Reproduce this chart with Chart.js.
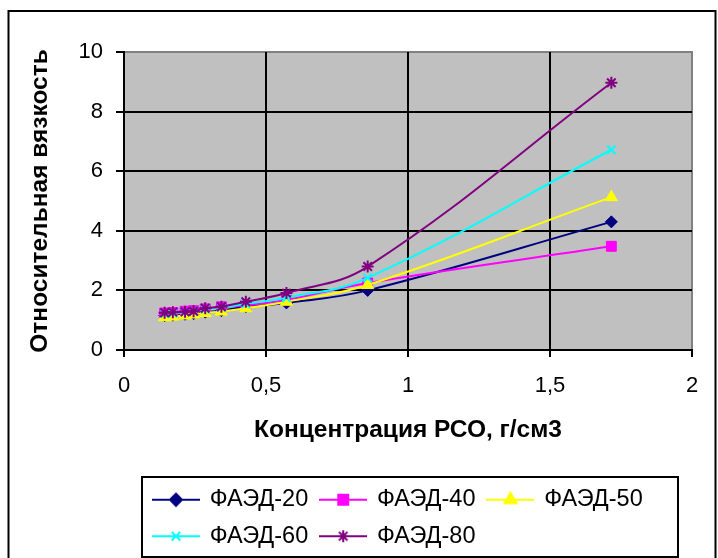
<!DOCTYPE html>
<html lang="ru">

<head>
  <meta charset="UTF-8">
  <title>Относительная вязкость</title>
  <style>
    body {
      margin: 0;
      background-color: #ffffff;
    }

    #chart-container {
      width: 718px;
      height: 558px;
    }
  </style>
</head>

<body>
  <div id="chart-container">
    <canvas id="viscosityChart" width="718" height="558"></canvas>
  </div>

  <script src="https://cdn.jsdelivr.net/npm/chart.js"></script>
  <script>
    // concentration, g/cm3
    const concentration = [0.143, 0.172, 0.215, 0.245, 0.286, 0.343, 0.429, 0.572, 0.858, 1.716];

    // relative viscosity for each series
    const faed20 = [1.15, 1.17, 1.2, 1.22, 1.27, 1.32, 1.45, 1.58, 2.0, 4.3];
    const faed40 = [1.24, 1.26, 1.3, 1.32, 1.38, 1.45, 1.5, 1.68, 2.25, 3.48];
    const faed50 = [1.1, 1.12, 1.16, 1.19, 1.24, 1.29, 1.4, 1.62, 2.18, 5.13];
    const faed60 = [1.22, 1.24, 1.27, 1.3, 1.37, 1.43, 1.55, 1.75, 2.42, 6.72];
    const faed80 = [1.25, 1.27, 1.28, 1.3, 1.4, 1.45, 1.62, 1.91, 2.8, 8.97];

    const seriesNames = ['ФАЭД-20', 'ФАЭД-40', 'ФАЭД-50', 'ФАЭД-60', 'ФАЭД-80'];
    const xTickLabels = ['0', '0,5', '1', '1,5', '2'];
    const yTickLabels = ['0', '2', '4', '6', '8', '10'];

    const fontFamily = 'Arial, "Liberation Sans", sans-serif';
    const canvasHeight = 558;
    const plotBottom = 350;

    const seriesStyles = [
      { color: '#000080', point: 'rectRot', radius: 6 },
      { color: '#ff00ff', point: 'rect', radius: 7 },
      { color: '#ffff00', point: 'triangle', radius: 7 },
      { color: '#00ffff', point: 'crossRot', radius: 6 },
      { color: '#800080', point: 'star', radius: 6 }
    ];

    const seriesValues = [faed20, faed40, faed50, faed60, faed80];

    // small line + marker icons for the legend
    function makeLegendIcon(style) {
      const c = document.createElement('canvas');
      c.width = 48;
      c.height = 18;
      const g = c.getContext('2d');
      g.strokeStyle = style.color;
      g.fillStyle = style.color;
      g.lineWidth = 2;
      g.beginPath();
      g.moveTo(0, 9);
      g.lineTo(48, 9);
      g.stroke();
      Chart.helpers.drawPoint(g, { pointStyle: style.point, radius: style.radius, borderWidth: 2, rotation: 0 }, 24, 9);
      return c;
    }
    const legendIcons = seriesStyles.map(makeLegendIcon);

    const datasets = seriesValues.map((vals, i) => ({
      label: seriesNames[i],
      data: concentration.map((c, j) => ({ x: c, y: vals[j] })),
      borderColor: seriesStyles[i].color,
      backgroundColor: seriesStyles[i].color,
      pointStyle: seriesStyles[i].point,
      pointRadius: seriesStyles[i].radius,
      pointHoverRadius: seriesStyles[i].radius,
      pointBorderWidth: (seriesStyles[i].point === 'crossRot' || seriesStyles[i].point === 'star') ? 2 : 1,
      borderWidth: 2,
      tension: 0.4,
      fill: false,
      order: seriesNames.length - i
    }));

    const legendBox = { left: 142, top: 477, right: 678, bottom: 557 };

    const frame = {
      id: 'frame',
      beforeDraw(chart) {
        const { ctx, chartArea: a } = chart;
        ctx.save();
        ctx.fillStyle = '#c0c0c0';
        ctx.fillRect(a.left, a.top, a.right - a.left, a.bottom - a.top);
        ctx.strokeStyle = '#808080';
        ctx.lineWidth = 2;
        ctx.strokeRect(a.left, a.top, a.right - a.left, a.bottom - a.top);
        ctx.restore();
      },
      afterLayout(chart) {
        // put the legend inside its box, rows aligned left
        const lg = chart.legend;
        lg.left = legendBox.left - 1;
        lg.right = legendBox.right + 7;
      },
      afterDraw(chart) {
        const ctx = chart.ctx;
        ctx.save();
        ctx.strokeStyle = '#000';
        ctx.lineWidth = 2;
        ctx.strokeRect(legendBox.left, legendBox.top, legendBox.right - legendBox.left, legendBox.bottom - legendBox.top);
        ctx.strokeRect(8.5, 11, 707, 560);
        ctx.restore();
      }
    };

    const ctx = document.getElementById('viscosityChart').getContext('2d');

    const config = {
      type: 'line',
      data: { datasets: datasets },
      options: {
        responsive: false,
        animation: false,
        devicePixelRatio: 1,
        layout: {
          padding: { left: 10, top: 52, right: 26, bottom: 0 }
        },
        scales: {
          x: {
            type: 'linear',
            min: 0,
            max: 2,
            ticks: {
              stepSize: 0.5,
              autoSkip: false,
              maxRotation: 0,
              padding: 16,
              color: '#000',
              font: { family: fontFamily, size: 22 },
              callback: (v, i) => xTickLabels[i]
            },
            grid: {
              color: c => (c.tick && c.tick.value > 0 && c.tick.value < 2) ? '#000' : 'rgba(0,0,0,0)',
              tickColor: '#000',
              lineWidth: 2,
              tickLength: 7
            },
            border: { color: '#000', width: 2 },
            title: {
              display: true,
              text: 'Концентрация РСО, г/см3',
              color: '#000',
              font: { family: fontFamily, size: 24.5, weight: 'bold' },
              padding: { top: 0, bottom: 30 }
            },
            afterFit: s => {
              s.height = canvasHeight - plotBottom - (s.chart.legend ? s.chart.legend.height : 0);
            }
          },
          y: {
            type: 'linear',
            min: 0,
            max: 10,
            ticks: {
              stepSize: 2,
              padding: 13,
              color: '#000',
              font: { family: fontFamily, size: 22 },
              callback: (v, i) => yTickLabels[i]
            },
            grid: {
              color: c => (c.tick && c.tick.value > 0 && c.tick.value < 10) ? '#000' : 'rgba(0,0,0,0)',
              tickColor: '#000',
              lineWidth: 2,
              tickLength: 8
            },
            border: { color: '#000', width: 2 },
            title: {
              display: true,
              text: 'Относительная вязкость',
              color: '#000',
              font: { family: fontFamily, size: 24.5, weight: 'bold' },
              padding: { top: 16, bottom: 0 }
            },
            afterFit: s => { s.width = 114; }
          }
        },
        plugins: {
          legend: {
            position: 'bottom',
            align: 'start',
            labels: {
              usePointStyle: true,
              pointStyleWidth: 44,
              padding: 13,
              color: '#000',
              font: { family: fontFamily, size: 23.5 },
              generateLabels: chart => chart.data.datasets.map((ds, i) => ({
                text: ds.label,
                pointStyle: legendIcons[i],
                fillStyle: ds.borderColor,
                strokeStyle: ds.borderColor,
                lineWidth: 0,
                hidden: false,
                datasetIndex: i
              }))
            }
          },
          tooltip: { enabled: false }
        }
      },
      plugins: [frame]
    };

    const chart = new Chart(ctx, config);
  </script>
</body>

</html>
